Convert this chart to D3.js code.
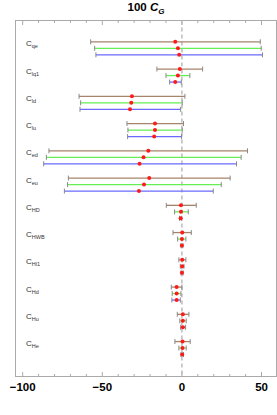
<!DOCTYPE html>
<html lang="en">
<head>
    <meta charset="UTF-8">
    <title>100 C_G</title>
    <script src="https://d3js.org/d3.v7.min.js"></script>
    <style>
        body { margin: 0; background: #fff; }
        .frame { fill: none; stroke: #aaa; stroke-width: 1px; }
        .zero { stroke: #bbb; stroke-width: 1.5px; stroke-dasharray: 4,3; }
        .cap { stroke: #888; stroke-width: 1px; }
        .dot { fill: #ff1a1a; }
        .lab { font-family: "Liberation Sans", Arial, sans-serif; font-size: 8px; fill: #333; }
        .tick-lab { font-family: "Liberation Sans", Arial, sans-serif; font-size: 11.5px; font-weight: bold; fill: #000; }
    </style>
</head>
<body>
    <svg width="277" height="415"></svg>

    <script>
        // coefficient names (subscripts of C)
        const categories = ['qe', 'lq1', 'ld', 'lu', 'ed', 'eu', 'HD', 'HWB', 'Hl1', 'Hd', 'Hu', 'He'];
        const series = ['brown', 'green', 'blue'];
        const colors = ['#a5846a', '#66ee55', '#6a6aff'];

        // [low, central, high] for each series
        const brownVals = [
            [-57.3, -4.2, 49.2], [-15.7, -1.3, 13.0], [-64.6, -31.4, 1.9], [-34.5, -16.9, 1.0],
            [-83.5, -21.1, 41.2], [-71.3, -20.5, 30.3], [-9.8, -0.6, 9.0], [-5.6, 0.2, 5.9],
            [-1.9, 0.2, 2.5], [-6.7, -3.3, 0.0], [-2.9, 0.6, 4.4], [-4.4, 0.4, 5.2]
        ];
        const greenVals = [
            [-54.8, -2.5, 49.8], [-10.0, -2.5, 5.0], [-63.6, -31.8, 0.2], [-33.9, -16.9, 0.2],
            [-85.1, -24.1, 37.2], [-71.8, -23.8, 24.7], [-4.6, -0.6, 4.0], [-2.7, 0.0, 2.5],
            [-1.0, 0.2, 1.3], [-6.1, -3.3, -0.6], [-1.3, 0.6, 2.7], [-1.9, 0.4, 2.7]
        ];
        const blueVals = [
            [-54.0, -1.7, 50.6], [-7.7, -4.2, -0.4], [-64.0, -32.6, -0.8], [-34.1, -17.4, -0.2],
            [-86.8, -26.6, 34.3], [-73.8, -27.0, 19.7], [-1.5, -0.8, -0.2], [-0.6, 0.0, 0.6],
            [-0.6, 0.0, 0.8], [-6.3, -3.3, -1.0], [-0.8, 0.6, 2.3], [-0.6, 0.2, 1.0]
        ];
        const allVals = [brownVals, greenVals, blueVals];

        const majorTicks = [-100, -50, 0, 50];
        const minorTicks = d3.range(-100, 60, 10);

        const svg = d3.select('svg');
        const mLeft = 15.5, mRight = 276.5, mTop = 20.5, mBottom = 376.5;

        const x = d3.scaleLinear().domain([-104.5, 59.4]).range([mLeft, mRight]);
        const y = d3.scaleBand().domain(categories).range([34.7, 361.7]);
        const ySub = d3.scalePoint().domain(series).range([-6.5, 6.5]);

        // frame
        svg.append('rect').attr('class', 'frame')
            .attr('x', mLeft).attr('y', mTop)
            .attr('width', mRight - mLeft).attr('height', mBottom - mTop);

        // ticks on top and bottom edges
        const tickG = svg.append('g');
        minorTicks.forEach(t => {
            const len = majorTicks.includes(t) ? 4.5 : 2.5;
            tickG.append('line')
                .attr('x1', x(t)).attr('x2', x(t)).attr('y1', mBottom).attr('y2', mBottom - len)
                .attr('stroke', '#aaa');
            tickG.append('line')
                .attr('x1', x(t)).attr('x2', x(t)).attr('y1', mTop).attr('y2', mTop + len)
                .attr('stroke', '#aaa');
        });

        svg.selectAll('.tick-lab')
            .data(majorTicks)
            .enter().append('text')
            .attr('class', 'tick-lab')
            .attr('x', d => x(d))
            .attr('y', 391)
            .attr('text-anchor', 'middle')
            .text(d => d < 0 ? '\u2212' + Math.abs(d) : d);

        // zero line
        svg.append('line').attr('class', 'zero')
            .attr('x1', x(0)).attr('x2', x(0))
            .attr('y1', mTop).attr('y2', mBottom);

        // error bars
        series.forEach((s, si) => {
            const g = svg.append('g');
            const rows = allVals[si].map((v, i) => ({ cat: categories[i], lo: v[0], c: v[1], hi: v[2] }));
            const yy = d => y(d.cat) + y.bandwidth() / 2 + ySub(s);

            g.selectAll('.bar')
                .data(rows)
                .enter().append('line')
                .attr('x1', d => x(d.lo)).attr('x2', d => x(d.hi))
                .attr('y1', yy).attr('y2', yy)
                .attr('stroke', colors[si]).attr('stroke-width', 1.3);

            ['lo', 'hi'].forEach(k => {
                g.selectAll('.cap-' + k)
                    .data(rows)
                    .enter().append('line')
                    .attr('class', 'cap')
                    .attr('x1', d => x(d[k])).attr('x2', d => x(d[k]))
                    .attr('y1', d => yy(d) - 2.5).attr('y2', d => yy(d) + 2.5);
            });

            g.selectAll('.dot')
                .data(rows)
                .enter().append('circle')
                .attr('class', 'dot')
                .attr('r', 2)
                .attr('cx', d => x(d.c))
                .attr('cy', yy);
        });

        // row labels
        const labs = svg.selectAll('.lab')
            .data(categories)
            .enter().append('text')
            .attr('class', 'lab')
            .attr('x', 26)
            .attr('y', d => y(d) + y.bandwidth() / 2 - 2);
        labs.append('tspan').text('C');
        labs.append('tspan').attr('dy', 2).attr('font-size', '5.5px').text(d => d);

        // title
        const title = svg.append('text')
            .attr('x', 146).attr('y', 11)
            .attr('text-anchor', 'middle')
            .attr('font-family', '"Liberation Sans", Arial, sans-serif')
            .attr('font-weight', 'bold')
            .attr('font-size', '11.5px');
        title.append('tspan').text('100 ');
        title.append('tspan').attr('font-style', 'italic').text('C');
        title.append('tspan').attr('font-style', 'italic').attr('font-size', '8px').attr('dy', 2.5).text('G');
    </script>
</body>
</html>
